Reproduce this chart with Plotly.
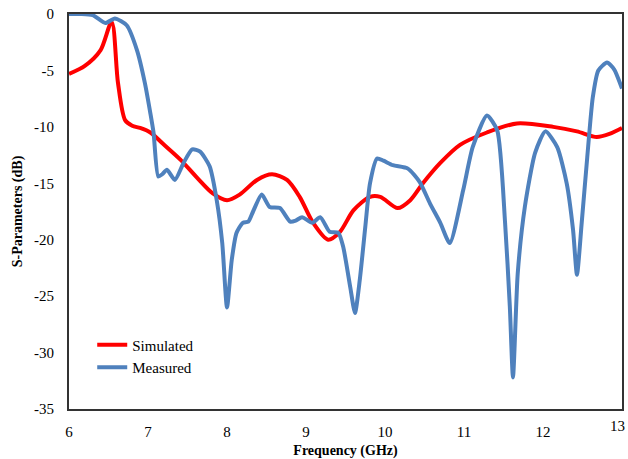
import plotly.graph_objects as go

sim_f = [6.0, 6.2, 6.4, 6.54, 6.62, 6.71, 6.8, 6.9, 7.03, 7.19, 7.41, 7.62, 7.82, 8.0, 8.16,
         8.38, 8.57, 8.76, 8.92, 9.09, 9.28, 9.43, 9.6, 9.81, 9.94, 10.16, 10.32, 10.48,
         10.7, 10.95, 11.29, 11.67, 12.13, 12.43, 12.68, 12.85, 13.0]
sim_db = [-5.3, -4.6, -3.2, -0.7, -6.1, -9.4, -9.9, -10.1, -10.5, -11.5, -12.9, -14.5, -15.9, -16.5, -16.0,
          -14.7, -14.2, -14.7, -16.2, -18.5, -20.0, -19.3, -17.4, -16.2, -16.2, -17.2, -16.5, -15.0,
          -13.2, -11.6, -10.5, -9.7, -10.0, -10.4, -10.9, -10.6, -10.1]

meas_f = [6.0, 6.15, 6.3, 6.46, 6.58, 6.73, 6.86, 6.96, 7.03, 7.07, 7.13, 7.18, 7.24, 7.34, 7.45,
          7.56, 7.66, 7.78, 7.87, 7.94, 8.0, 8.06, 8.12, 8.2, 8.27, 8.33, 8.44, 8.54, 8.67,
          8.8, 8.87, 8.95, 9.08, 9.18, 9.3, 9.41, 9.47, 9.56, 9.62, 9.68, 9.75, 9.81, 9.9,
          9.98, 10.1, 10.29, 10.44, 10.57, 10.7, 10.82, 10.99, 11.11, 11.29, 11.42, 11.52,
          11.58, 11.62, 11.68, 11.77, 11.9, 12.03, 12.18, 12.3, 12.38, 12.43, 12.49, 12.56,
          12.63, 12.7, 12.81, 12.9, 13.0]
meas_db = [0.0, 0.0, -0.1, -0.8, -0.4, -1.0, -3.2, -6.1, -8.8, -10.5, -14.4, -14.2, -13.8, -14.7, -13.2,
           -12.0, -12.2, -13.5, -16.5, -20.3, -26.0, -21.8, -19.4, -18.5, -18.4, -17.5, -16.0, -17.1, -17.2,
           -18.4, -18.3, -18.0, -18.5, -18.0, -19.3, -19.4, -20.6, -24.2, -26.5, -23.6, -18.9, -15.0, -12.8,
           -13.0, -13.4, -13.7, -14.9, -16.8, -18.5, -20.3, -15.6, -11.8, -9.0, -10.3, -18.5,
           -25.9, -32.2, -23.0, -17.1, -12.3, -10.4, -11.8, -15.0, -19.1, -23.1, -18.5, -12.7,
           -7.4, -5.0, -4.3, -4.9, -6.6]

x_ticks = [6, 7, 8, 9, 10, 11, 12]
x_labels = ["6", "7", "8", "9", "10", "11", "12"]
x_last_tick = 13
x_last_label = "13"
y_ticks = [0, -5, -10, -15, -20, -25, -30, -35]
y_labels = ["0", "-5", "-10", "-15", "-20", "-25", "-30", "-35"]

fig = go.Figure()
fig.add_trace(go.Scatter(x=sim_f, y=sim_db, mode="lines", name="Simulated",
                         line=dict(color="#FF0000", width=4, shape="spline", smoothing=0.8)))
fig.add_trace(go.Scatter(x=meas_f, y=meas_db, mode="lines", name="Measured",
                         line=dict(color="#4F81BD", width=4, shape="spline", smoothing=0.6)))

font_family = "Liberation Serif, Times New Roman, serif"
fig.add_annotation(x=x_last_tick, xref="x", y=0, yref="paper", yanchor="top", xanchor="right",
                   xshift=5, yshift=-7, text=x_last_label, showarrow=False,
                   font=dict(family=font_family, size=15, color="black"))
fig.update_layout(
    width=628, height=459,
    margin=dict(l=69, r=6, t=14, b=50),
    paper_bgcolor="white", plot_bgcolor="white",
    font=dict(family=font_family, size=14, color="black"),
    showlegend=True,
    legend=dict(x=0.042, y=0.134, xanchor="left", yanchor="middle",
                bgcolor="rgba(0,0,0,0)", font=dict(family=font_family, size=15),
                itemwidth=30, tracegroupgap=2),
    xaxis=dict(range=[6, 13], tickvals=x_ticks, ticktext=x_labels, showgrid=False, zeroline=False,
               showline=True, linecolor="#333333", linewidth=2, mirror=True, automargin=False,
               ticks="", ticklabelstandoff=8, tickfont=dict(size=15),
               title=dict(text="<b>Frequency (GHz)</b>", font=dict(family=font_family, size=14), standoff=6)),
    yaxis=dict(range=[-35, 0], tickvals=y_ticks, ticktext=y_labels, showgrid=False, zeroline=False,
               showline=True, linecolor="#333333", linewidth=2, mirror=True, automargin=False,
               ticks="", ticklabelstandoff=10, tickfont=dict(size=15),
               title=dict(text="<b>S-Parameters (dB)</b>", font=dict(family=font_family, size=14), standoff=8)),
)

fig.write_html("out.html")
